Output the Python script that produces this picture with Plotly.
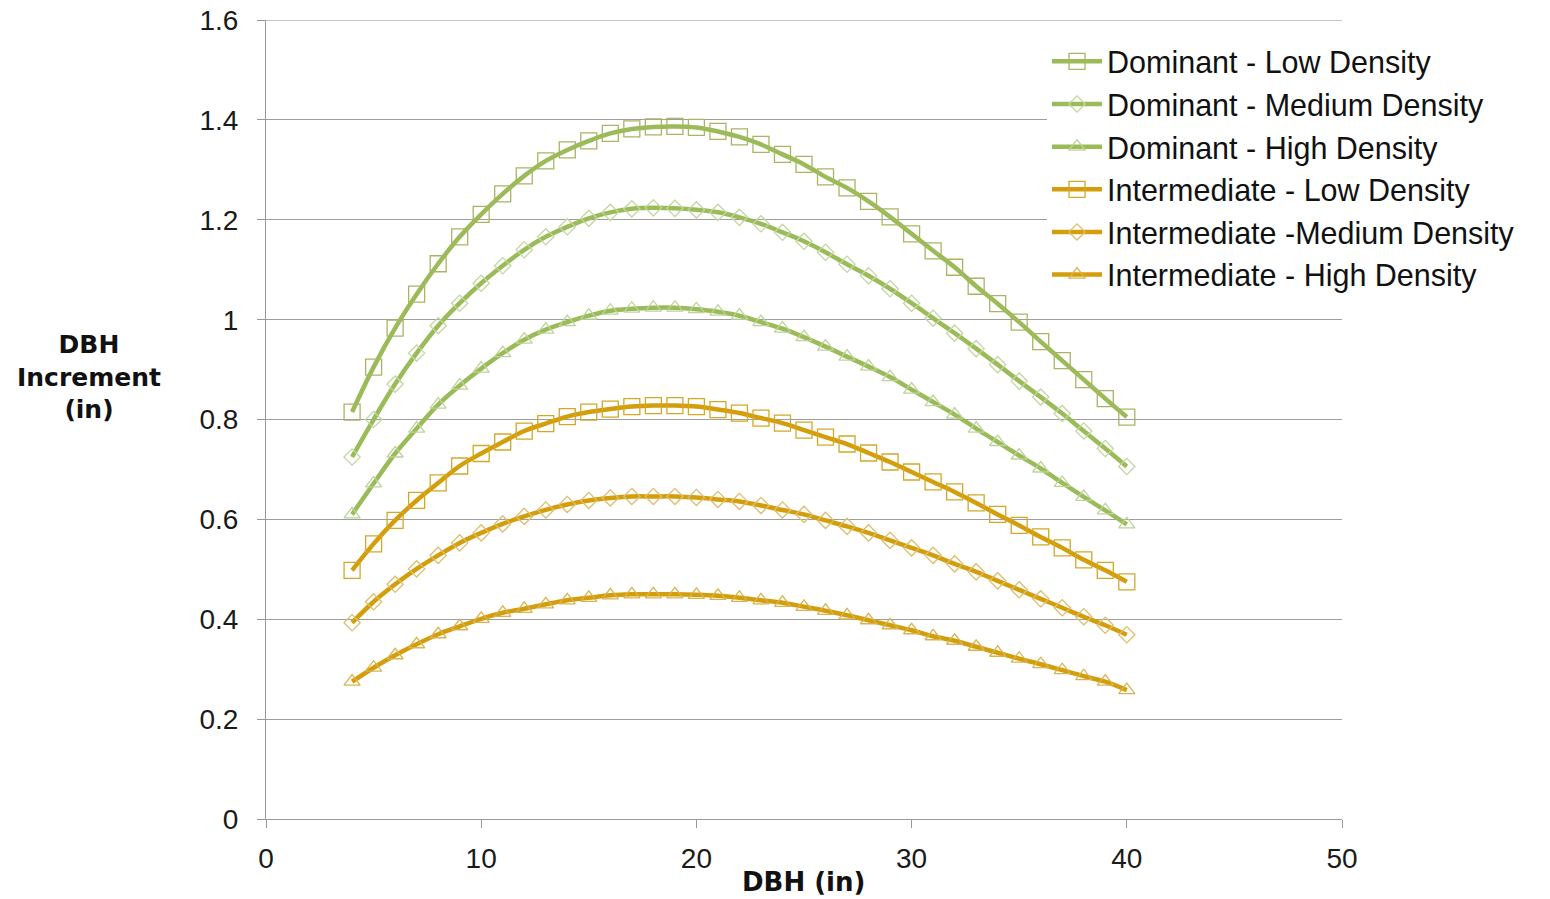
import plotly.graph_objects as go

dbh = list(range(4, 41))

dom_low = [0.815, 0.905, 0.983, 1.051, 1.112, 1.166, 1.211, 1.252, 1.288, 1.318, 1.340, 1.358,
           1.373, 1.382, 1.386, 1.387, 1.385, 1.377, 1.366, 1.351, 1.331, 1.311, 1.286, 1.264,
           1.237, 1.206, 1.172, 1.138, 1.105, 1.067, 1.032, 0.995, 0.956, 0.918, 0.880, 0.842, 0.805]
dom_med = [0.725, 0.800, 0.871, 0.933, 0.988, 1.033, 1.073, 1.108, 1.140, 1.166, 1.186, 1.203,
           1.215, 1.222, 1.224, 1.223, 1.220, 1.215, 1.205, 1.192, 1.175, 1.157, 1.135, 1.111,
           1.088, 1.062, 1.033, 1.003, 0.973, 0.942, 0.910, 0.877, 0.845, 0.812, 0.777, 0.742, 0.706]
dom_high = [0.610, 0.672, 0.732, 0.782, 0.830, 0.868, 0.902, 0.933, 0.960, 0.980, 0.995, 1.008,
            1.018, 1.022, 1.024, 1.024, 1.021, 1.016, 1.008, 0.995, 0.982, 0.965, 0.946, 0.926,
            0.906, 0.885, 0.860, 0.835, 0.810, 0.782, 0.755, 0.728, 0.702, 0.673, 0.645, 0.618, 0.590]
int_low = [0.498, 0.551, 0.598, 0.638, 0.673, 0.707, 0.732, 0.755, 0.777, 0.792, 0.806, 0.815,
           0.821, 0.826, 0.828, 0.828, 0.826, 0.820, 0.813, 0.803, 0.793, 0.779, 0.765, 0.751,
           0.733, 0.715, 0.695, 0.675, 0.655, 0.633, 0.610, 0.588, 0.565, 0.543, 0.519, 0.498, 0.475]
int_med = [0.393, 0.435, 0.470, 0.501, 0.528, 0.553, 0.573, 0.591, 0.606, 0.619, 0.630, 0.638,
           0.643, 0.646, 0.646, 0.646, 0.644, 0.640, 0.636, 0.628, 0.619, 0.610, 0.598, 0.586,
           0.573, 0.558, 0.543, 0.528, 0.511, 0.495, 0.477, 0.459, 0.441, 0.423, 0.405, 0.388, 0.369]
int_high = [0.275, 0.303, 0.328, 0.350, 0.370, 0.386, 0.401, 0.413, 0.421, 0.430, 0.438, 0.443,
            0.448, 0.450, 0.450, 0.450, 0.449, 0.447, 0.443, 0.438, 0.433, 0.425, 0.417, 0.408,
            0.398, 0.388, 0.378, 0.366, 0.357, 0.345, 0.333, 0.321, 0.310, 0.298, 0.286, 0.275, 0.258]

series_names = ["Dominant - Low Density", "Dominant - Medium Density", "Dominant - High Density",
                "Intermediate - Low Density", "Intermediate -Medium Density", "Intermediate - High Density"]
series_values = [dom_low, dom_med, dom_high, int_low, int_med, int_high]
line_colors = ["#9BBB59", "#9BBB59", "#9BBB59", "#D49E0A", "#D49E0A", "#D49E0A"]
marker_colors = ["#A9B563", "#C2D7A0", "#BCD399", "#D3A828", "#DDBE6E", "#D8B450"]
symbols = ["square-open", "diamond-open", "triangle-up-open"] * 2
sizes = [16, 12.5, 14, 16, 12.5, 14]

y_tickvals = [0, 0.2, 0.4, 0.6, 0.8, 1.0, 1.2, 1.4, 1.6]
y_ticktext = ["0", "0.2", "0.4", "0.6", "0.8", "1", "1.2", "1.4", "1.6"]
x_tickvals = [0, 10, 20, 30, 40, 50]
y_title = "DBH<br>Increment<br>(in)"
x_title = "DBH (in)"

FONT = "Liberation Sans, Arial, sans-serif"
TITLE_FONT = "DejaVu Sans, Verdana, sans-serif"

# plot area in the page: x 266..1342, y 20..819
PW, PH = 1076, 799

fig = go.Figure()
for name, vals, lc, mc, sym, sz in zip(series_names, series_values, line_colors, marker_colors, symbols, sizes):
    fig.add_trace(go.Scatter(
        x=dbh, y=vals, name=name, mode="lines+markers",
        line=dict(color=lc, width=4.5, shape="spline", smoothing=1),
        marker=dict(symbol=sym, size=sz, color=mc, line=dict(color=mc, width=1.3)),
    ))

annotations = [
    dict(
        text="<b>" + y_title + "</b>", xref="paper", yref="paper",
        x=(89 - 266) / PW, y=(819 - 377) / PH,
        xanchor="center", yanchor="middle", showarrow=False, align="center",
        font=dict(family=TITLE_FONT, size=25, color="#111111"),
    ),
    dict(
        text="<b>" + x_title + "</b>", xref="paper", yref="paper",
        x=(803 - 266) / PW, y=(819 - 882) / PH,
        xanchor="center", yanchor="middle", showarrow=False,
        font=dict(family=TITLE_FONT, size=26, color="#111111"),
    ),
]

fig.update_layout(
    width=1550, height=899,
    margin=dict(l=266, r=208, t=20, b=80, autoexpand=False),
    paper_bgcolor="white", plot_bgcolor="white",
    font=dict(family=FONT, color="#1a1a1a"),
    showlegend=True,
    legend=dict(
        x=(1047 - 266) / PW, y=(819 - 35) / PH, xanchor="left", yanchor="top",
        bgcolor="white", borderwidth=0,
        font=dict(family=FONT, size=30.5, color="#111111"),
        itemwidth=50,
    ),
    xaxis=dict(
        range=[0, 50], tickvals=x_tickvals,
        showgrid=False, zeroline=False, automargin=False,
        showline=True, linecolor="#999999", linewidth=1,
        ticks="outside", ticklen=8, tickcolor="#999999",
        tickfont=dict(family=FONT, size=28, color="#1a1a1a"),
        ticklabelstandoff=6, ticklabeloverflow="allow",
    ),
    yaxis=dict(
        range=[0, 1.6002], tickvals=y_tickvals, ticktext=y_ticktext,
        showgrid=True, gridcolor="#9E9E9E", gridwidth=1,
        zeroline=False, showline=True, linecolor="#999999", linewidth=1, automargin=False,
        ticks="outside", ticklen=8, tickcolor="#999999",
        tickfont=dict(family=FONT, size=28, color="#1a1a1a"),
        ticklabelstandoff=13, ticklabeloverflow="allow",
    ),
    shapes=[dict(type="line", xref="paper", x0=0, x1=1, yref="y", y0=1.6, y1=1.6,
                 line=dict(color="#9E9E9E", width=1), layer="below")],
    annotations=annotations,
)

fig.write_html("out.html", config={"displayModeBar": False},
               post_script="document.body.style.margin='0';")
